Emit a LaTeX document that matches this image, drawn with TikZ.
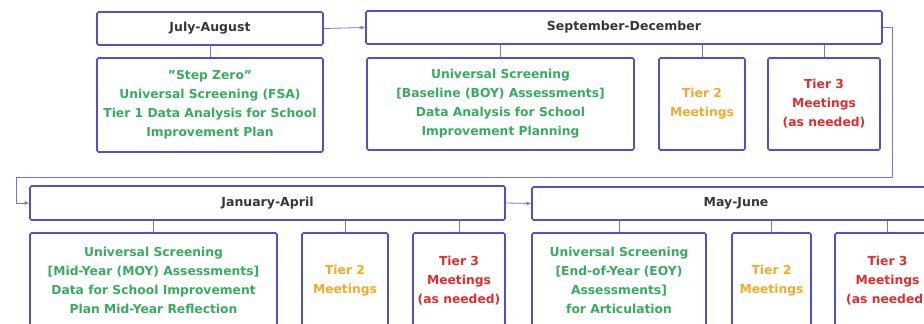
\documentclass[tikz,border=0pt]{standalone}
\usepackage{fontspec}
\setmainfont{DejaVu Sans}
\usetikzlibrary{arrows.meta}
\definecolor{bx}{RGB}{80,80,215}
\definecolor{ln}{RGB}{115,115,225}
\definecolor{gr}{RGB}{55,172,95}
\definecolor{orng}{RGB}{245,170,40}
\definecolor{rd}{RGB}{225,45,45}
\definecolor{hd}{RGB}{55,55,55}
\tikzset{
  box/.style={draw=bx, line width=1.6pt, rounded corners=1.5pt, fill=white, inner sep=0.5pt, align=center, anchor=center},
  hdr/.style={box, text=hd, font=\fontsize{12.5}{14}\selectfont\bfseries},
  body/.style={box, font=\fontsize{12.3}{19}\selectfont\bfseries},
  conn/.style={draw=ln, line width=0.7pt},
  flow/.style={draw=ln, line width=0.8pt, -{Latex[length=4.5pt,width=4pt]}},
}
\begin{document}
\begin{tikzpicture}[x=1pt,y=-1pt]
\useasboundingbox (0,0) rectangle (924,324);
\clip (0,0) rectangle (924,324);
% headers
\node[hdr, minimum width=226, minimum height=33] (ja) at (210,28.5) {July-August};
\node[hdr, minimum width=516, minimum height=33] (sd) at (624,27.5) {September-December};
\node[hdr, minimum width=475, minimum height=34] (jan) at (267.5,203) {January-April};
\node[hdr, minimum width=408, minimum height=33] (mj) at (736,203.5) {May-June};
% row 1
\node[body, text=gr, minimum width=226, minimum height=94] (ja1) at (210,105) {\symbol{34}Step Zero\symbol{34}\\Universal Screening (FSA)\\Tier 1 Data Analysis for School\\Improvement Plan};
\node[body, text=gr, minimum width=267, minimum height=92] (sd1) at (500.5,104) {Universal Screening\\{[}Baseline (BOY) Assessments{]}\\Data Analysis for School\\Improvement Planning};
\node[body, text=orng, minimum width=86, minimum height=92] (sd2) at (702,104) {Tier 2\\Meetings};
\node[body, text=rd, minimum width=112, minimum height=92] (sd3) at (824,104) {Tier 3\\Meetings\\(as needed)};
% row 2
\node[body, text=gr, minimum width=247, minimum height=95] (jan1) at (153.5,280.5) {Universal Screening\\{[}Mid-Year (MOY) Assessments{]}\\Data for School Improvement\\Plan Mid-Year Reflection};
\node[body, text=orng, minimum width=86, minimum height=95] (jan2) at (345,280.5) {Tier 2\\Meetings};
\node[body, text=rd, minimum width=92, minimum height=95] (jan3) at (459,280.5) {Tier 3\\Meetings\\(as needed)};
\node[body, text=gr, minimum width=174, minimum height=95] (mj1) at (619,280.5) {Universal Screening\\{[}End-of-Year (EOY)\\Assessments{]}\\for Articulation};
\node[body, text=orng, minimum width=79, minimum height=95] (mj2) at (771.5,280.5) {Tier 2\\Meetings};
\node[body, text=rd, minimum width=105, minimum height=95] (mj3) at (887.5,280.5) {Tier 3\\Meetings\\(as needed)};
% connectors header -> boxes
\foreach \h/\b in {ja/ja1, sd/sd1, sd/sd2, sd/sd3, jan/jan1, jan/jan2, jan/jan3, mj/mj1, mj/mj2, mj/mj3}
  \draw[conn] (\b.north |- \h.south) -- (\b.north);
% flow
\coordinate (c1) at (892,27.5);
\coordinate (c2) at (892,177);
\coordinate (c3) at (16,177);
\coordinate (c4) at (16,203);
\draw[flow] (ja.east) -- (sd.west);
\draw[flow] (sd.east) -- (c1) -- (c2) -- (c3) -- (c4) -- (jan.west);
\draw[flow] (jan.east) -- (mj.west);
\end{tikzpicture}
\end{document}
